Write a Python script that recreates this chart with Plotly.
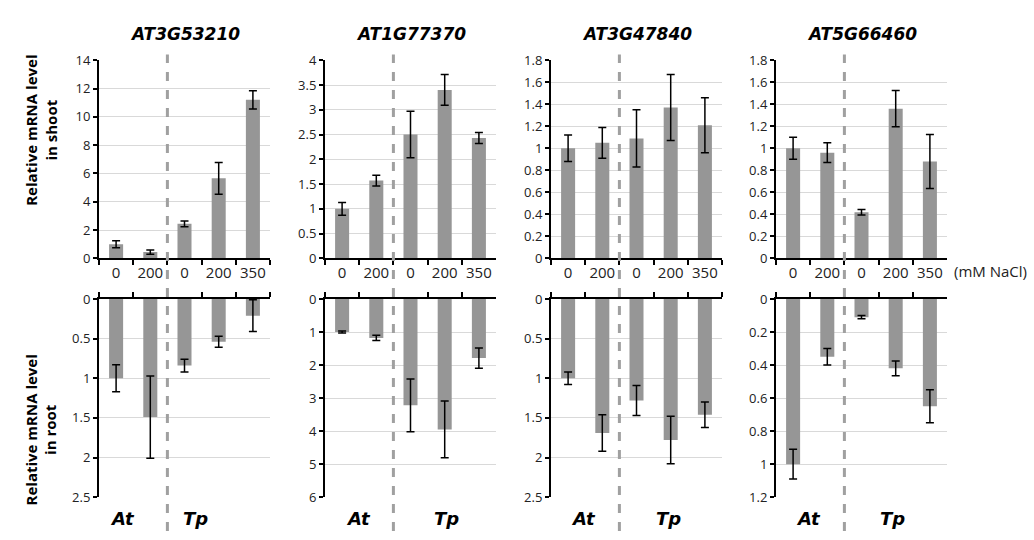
import plotly.graph_objects as go
from plotly.subplots import make_subplots

# ---------------- data ----------------
genes = ["AT3G53210", "AT1G77370", "AT3G47840", "AT5G66460"]
categories = ["At 0", "At 200", "Tp 0", "Tp 200", "Tp 350"]
tick_labels = ["0", "200", "0", "200", "350"]
group_labels = ["At", "Tp"]

shoot_values = [
    [1.0, 0.45, 2.44, 5.66, 11.2],
    [1.0, 1.57, 2.5, 3.4, 2.43],
    [1.0, 1.05, 1.09, 1.37, 1.21],
    [1.0, 0.96, 0.42, 1.36, 0.88],
]
shoot_errors = [
    [0.25, 0.15, 0.2, 1.12, 0.65],
    [0.13, 0.11, 0.47, 0.31, 0.11],
    [0.12, 0.14, 0.26, 0.3, 0.25],
    [0.1, 0.09, 0.025, 0.165, 0.245],
]
root_values = [
    [1.0, 1.49, 0.84, 0.54, 0.21],
    [1.0, 1.18, 3.22, 3.95, 1.79],
    [1.0, 1.69, 1.28, 1.78, 1.46],
    [1.0, 0.35, 0.11, 0.42, 0.65],
]
root_errors = [
    [0.17, 0.52, 0.08, 0.07, 0.2],
    [0.03, 0.08, 0.8, 0.86, 0.31],
    [0.08, 0.23, 0.19, 0.3, 0.16],
    [0.09, 0.05, 0.01, 0.045, 0.1],
]
shoot_max = [14, 4, 1.8, 1.8]
shoot_dtick = [2, 0.5, 0.2, 0.2]
root_max = [2.5, 6, 2.5, 1.2]
root_dtick = [0.5, 1, 0.5, 0.2]

# ---------------- layout geometry (pixels) ----------------
W, H = 1034, 540
panel_left = [99, 325, 551, 776]
panel_w = 171
top_y = (53, 258)
bot_y = (300, 505)
at_x = [122, 358, 583, 808]
tp_x = [195, 446, 668, 892]

def px(x):
    return x / W

def py(y):
    return 1 - y / H

BAR = "#969696"
GRID = "#d9d9d9"
TICKFONT = dict(family="Open Sans", size=13, color="#222")

fig = make_subplots(rows=2, cols=4)

for i in range(4):
    fig.add_trace(go.Bar(
        x=categories, y=shoot_values[i], marker_color=BAR, marker_line_width=0,
        error_y=dict(type="data", array=shoot_errors[i], color="black", thickness=1.5, width=4),
        showlegend=False), row=1, col=i + 1)
    fig.add_trace(go.Bar(
        x=categories, y=root_values[i], marker_color=BAR, marker_line_width=0,
        error_y=dict(type="data", array=root_errors[i], color="black", thickness=1.5, width=4),
        showlegend=False), row=2, col=i + 1)

for i in range(4):
    dom = [px(panel_left[i]), px(panel_left[i] + panel_w)]
    # top row
    fig.update_xaxes(row=1, col=i + 1, domain=dom, type="category",
                     tickmode="array", tickvals=categories, ticktext=tick_labels,
                     tickangle=0,
                     tickson="boundaries", ticks="outside", ticklen=5, tickwidth=1.5,
                     tickcolor="black", showline=True, linecolor="black", linewidth=2,
                     showgrid=False, tickfont=dict(family="Open Sans", size=15, color="#222"),
                     fixedrange=True)
    fig.update_yaxes(row=1, col=i + 1, domain=[py(top_y[1]), py(top_y[0])],
                     range=[0, shoot_max[i]], dtick=shoot_dtick[i], tick0=0,
                     ticks="outside", ticklen=4, tickwidth=1.5, tickcolor="black",
                     showline=True, linecolor="black", linewidth=2,
                     showgrid=True, gridcolor=GRID, gridwidth=1, zeroline=False,
                     tickfont=TICKFONT)
    # bottom row
    fig.update_xaxes(row=2, col=i + 1, domain=dom, type="category", side="top",
                     tickmode="array", tickvals=categories, ticktext=tick_labels,
                     showticklabels=False,
                     tickson="boundaries", ticks="outside", ticklen=5, tickwidth=1.5,
                     tickcolor="black", showline=True, linecolor="black", linewidth=2,
                     showgrid=False)
    fig.update_yaxes(row=2, col=i + 1, domain=[py(bot_y[1]), py(bot_y[0])],
                     range=[root_max[i], 0], dtick=root_dtick[i], tick0=0,
                     ticks="outside", ticklen=4, tickwidth=1.5, tickcolor="black",
                     showline=True, linecolor="black", linewidth=2,
                     showgrid=True, gridcolor=GRID, gridwidth=1, zeroline=False,
                     tickfont=TICKFONT)

    # dashed separator between At and Tp
    xref = "x domain" if i == 0 else f"x{i + 1} domain"
    fig.add_shape(type="line", xref=xref, yref="paper", x0=0.4, x1=0.4,
                  y0=0, y1=py(47), line=dict(color="#a0a0a0", width=3, dash="dash"))

    # gene title
    fig.add_annotation(text=f"<b><i>{genes[i]}</i></b>", xref="paper", yref="paper",
                       x=px(panel_left[i] + panel_w / 2), y=py(26), showarrow=False,
                       xanchor="center", yanchor="middle",
                       font=dict(family="DejaVu Sans", size=17, color="black"))
    # group labels
    for lab, xx in zip(group_labels, [at_x[i], tp_x[i]]):
        fig.add_annotation(text=f"<b><i>{lab}</i></b>", xref="paper", yref="paper",
                           x=px(xx), y=py(527), showarrow=False,
                           xanchor="center", yanchor="middle",
                           font=dict(family="DejaVu Sans", size=18, color="black"))

fig.add_annotation(text="<b>Relative mRNA level<br>in shoot</b>", xref="paper", yref="paper",
                   x=px(41), y=py(126), showarrow=False, textangle=-90,
                   xanchor="center", yanchor="middle",
                   font=dict(family="Open Sans", size=15, color="black"))
fig.add_annotation(text="<b>Relative mRNA level<br>in root</b>", xref="paper", yref="paper",
                   x=px(41), y=py(436), showarrow=False, textangle=-90,
                   xanchor="center", yanchor="middle",
                   font=dict(family="Open Sans", size=15, color="black"))
fig.add_annotation(text="(mM NaCl)", xref="paper", yref="paper",
                   x=px(990), y=py(271), showarrow=False,
                   xanchor="center", yanchor="middle",
                   font=dict(family="Open Sans", size=15, color="#222"))

fig.update_layout(width=W, height=H, margin=dict(l=0, r=0, t=0, b=0),
                  paper_bgcolor="white", plot_bgcolor="white",
                  bargap=0.59, showlegend=False)

fig.write_html("out.html")
